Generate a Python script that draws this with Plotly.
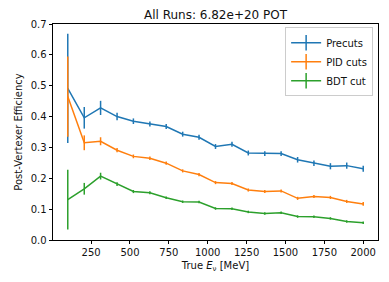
import plotly.graph_objects as go

energy = [100, 206, 311, 417, 522, 628, 733, 839, 944, 1050, 1156, 1261, 1367, 1472, 1578, 1683, 1789, 1894, 2000]

precuts = [0.491, 0.396, 0.428, 0.400, 0.385, 0.376, 0.368, 0.343, 0.333, 0.303, 0.310, 0.282, 0.280, 0.280, 0.260, 0.249, 0.239, 0.241, 0.231]
precuts_err = [0.177, 0.035, 0.023, 0.012, 0.009, 0.008, 0.008, 0.008, 0.008, 0.008, 0.008, 0.008, 0.008, 0.008, 0.009, 0.009, 0.010, 0.010, 0.010]

pid = [0.465, 0.315, 0.320, 0.291, 0.271, 0.265, 0.249, 0.224, 0.212, 0.186, 0.183, 0.162, 0.157, 0.159, 0.135, 0.141, 0.138, 0.125, 0.117]
pid_err = [0.130, 0.024, 0.013, 0.007, 0.006, 0.006, 0.005, 0.005, 0.005, 0.005, 0.005, 0.005, 0.005, 0.005, 0.005, 0.005, 0.005, 0.005, 0.006]

bdt = [0.131, 0.166, 0.207, 0.181, 0.157, 0.153, 0.137, 0.124, 0.123, 0.102, 0.101, 0.091, 0.086, 0.088, 0.076, 0.075, 0.070, 0.060, 0.056]
bdt_err = [0.097, 0.019, 0.011, 0.006, 0.005, 0.005, 0.004, 0.004, 0.004, 0.004, 0.004, 0.004, 0.004, 0.004, 0.004, 0.004, 0.004, 0.004, 0.004]

series = [("Precuts", precuts, precuts_err, "#1f77b4"),
          ("PID cuts", pid, pid_err, "#ff7f0e"),
          ("BDT cut", bdt, bdt_err, "#2ca02c")]

fig = go.Figure()
for name, vals, errs, col in series:
    fig.add_trace(go.Scatter(
        x=energy, y=vals, mode="lines", name=name, showlegend=False,
        line=dict(color=col, width=1.5),
        error_y=dict(type="data", array=errs, visible=True, thickness=1.5, width=0, color=col),
    ))
for name, vals, errs, col in series:
    fig.add_trace(go.Scatter(
        x=[None], y=[None], mode="lines+markers", name=name,
        line=dict(color=col, width=1.5),
        marker=dict(symbol="line-ns", size=11, line=dict(color=col, width=1.5)),
    ))

font_family = "DejaVu Sans"
W, H = 381, 274  # page body adds 8px offset
fig.update_layout(
    width=W, height=H,
    margin=dict(l=36, r=10, t=15, b=42),
    paper_bgcolor="white", plot_bgcolor="white",
    font=dict(family=font_family, size=10, color="#111"),
    title=dict(text="All Runs: 6.82e+20 POT", x=0.5, xref="paper", xanchor="center",
               y=1 - 7 / H, yref="container", yanchor="middle",
               font=dict(size=12, color="#111", family=font_family)),
    showlegend=True,
    legend=dict(x=0.985, y=0.985, xanchor="right", yanchor="top",
                bgcolor="rgba(255,255,255,0.8)", bordercolor="#cccccc", borderwidth=1,
                font=dict(size=10), itemwidth=30, tracegroupgap=0),
)
fig.update_xaxes(range=[5, 2095], tickvals=[250, 500, 750, 1000, 1250, 1500, 1750, 2000],
                 showgrid=False, zeroline=False, showline=True, linecolor="black", linewidth=0.8,
                 mirror=True, ticks="outside", ticklen=3.5, tickwidth=0.8, tickcolor="black",
                 title=dict(text="True <i>E</i><sub>ν</sub> [MeV]", standoff=4, font=dict(size=10)))
fig.update_yaxes(range=[0, 0.7], tickvals=[0, 0.1, 0.2, 0.3, 0.4, 0.5, 0.6, 0.7], tickformat=".1f",
                 showgrid=False, zeroline=False, showline=True, linecolor="black", linewidth=0.8,
                 mirror=True, ticks="outside", ticklen=3.5, tickwidth=0.8, tickcolor="black",
                 title=dict(text="Post-Vertexer Efficiency", standoff=6, font=dict(size=10)))

fig.write_html("out.html")
